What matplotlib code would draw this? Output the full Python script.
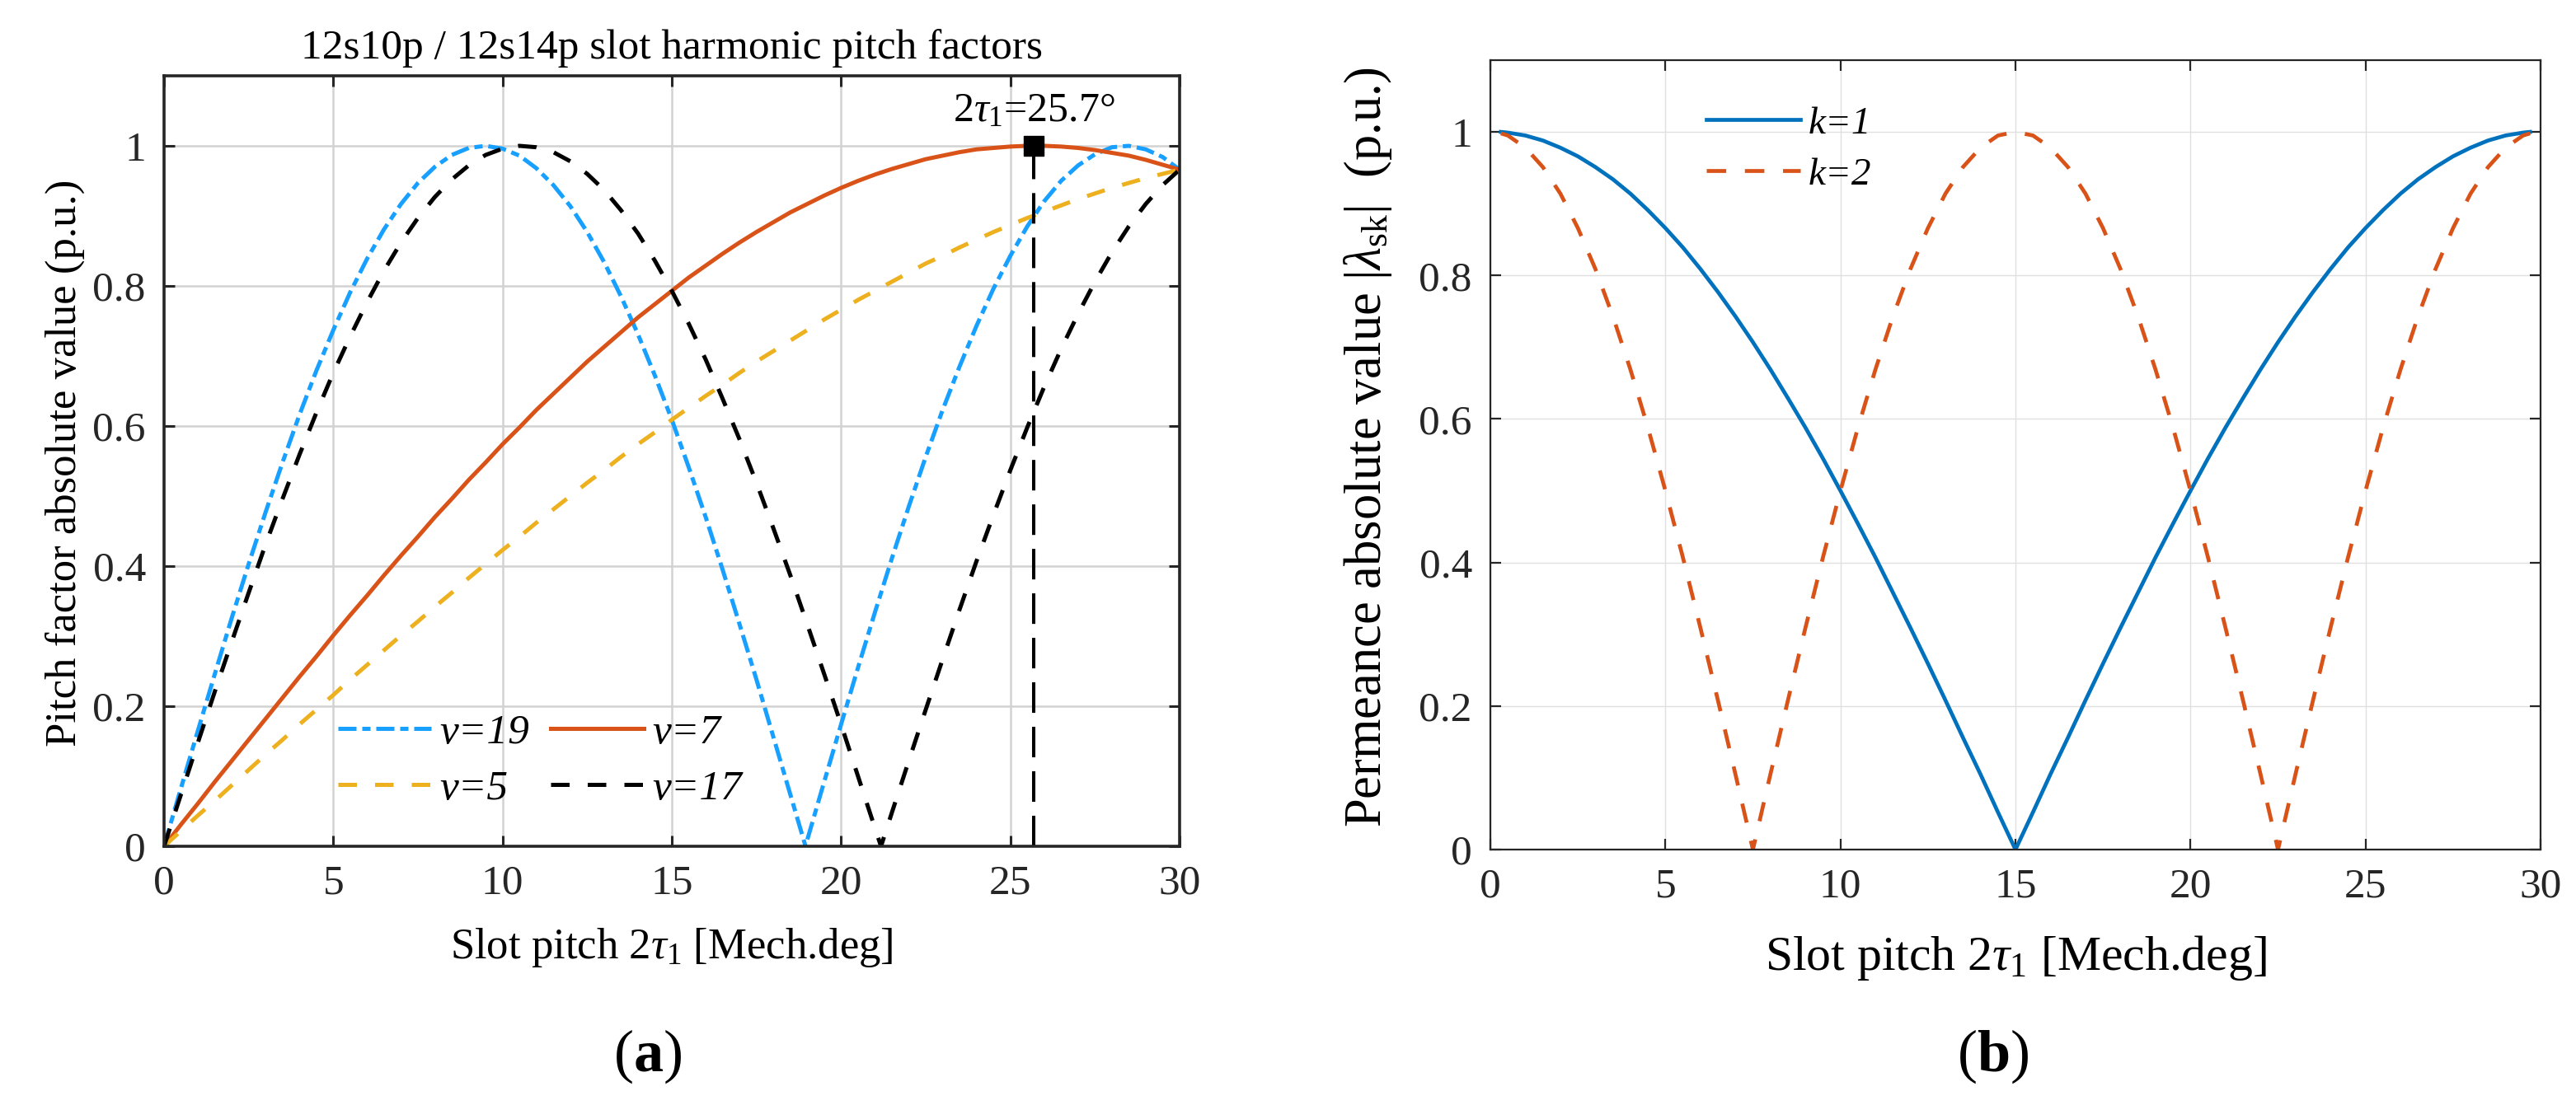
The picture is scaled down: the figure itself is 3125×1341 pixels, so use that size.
import matplotlib
matplotlib.use('Agg')
import matplotlib.pyplot as plt
from matplotlib.ticker import FuncFormatter

plt.rcParams['font.family'] = ['Liberation Serif', 'DejaVu Serif']
plt.rcParams['mathtext.fontset'] = 'custom'
plt.rcParams['mathtext.rm'] = 'Liberation Serif'
plt.rcParams['mathtext.it'] = 'Liberation Serif:italic'
plt.rcParams['mathtext.bf'] = 'Liberation Serif:bold'

# ---- data: panel (a), pitch factor vs slot pitch ----
x_a = [0.0, 0.5, 1.0, 1.5, 2.0, 2.5, 3.0, 3.5, 4.0, 4.5, 5.0, 5.5, 6.0, 6.5, 7.0, 7.5,
       8.0, 8.5, 9.0, 9.5, 10.0, 10.5, 11.0, 11.5, 12.0, 12.5, 13.0, 13.5, 14.0, 14.5,
       15.0, 15.5, 16.0, 16.5, 17.0, 17.5, 18.0, 18.5, 19.0, 19.5, 20.0, 20.5, 21.0,
       21.5, 22.0, 22.5, 23.0, 23.5, 24.0, 24.5, 25.0, 25.5, 26.0, 26.5, 27.0, 27.5,
       28.0, 28.5, 29.0, 29.5, 30.0]

v7 = [0.000, 0.031, 0.061, 0.092, 0.122, 0.152, 0.182, 0.212, 0.242, 0.271, 0.301,
      0.330, 0.358, 0.387, 0.415, 0.442, 0.470, 0.496, 0.523, 0.548, 0.574, 0.598,
      0.623, 0.646, 0.669, 0.692, 0.713, 0.734, 0.755, 0.774, 0.793, 0.812, 0.829,
      0.846, 0.862, 0.877, 0.891, 0.905, 0.917, 0.929, 0.940, 0.950, 0.959, 0.967,
      0.974, 0.981, 0.986, 0.991, 0.995, 0.997, 0.999, 1.000, 1.000, 0.999, 0.997,
      0.994, 0.990, 0.986, 0.980, 0.973, 0.966]

v5 = [0.000, 0.022, 0.044, 0.065, 0.087, 0.109, 0.131, 0.152, 0.174, 0.195, 0.216,
      0.238, 0.259, 0.280, 0.301, 0.321, 0.342, 0.362, 0.383, 0.403, 0.423, 0.442,
      0.462, 0.481, 0.500, 0.519, 0.537, 0.556, 0.574, 0.591, 0.609, 0.626, 0.643,
      0.659, 0.676, 0.692, 0.707, 0.722, 0.737, 0.752, 0.766, 0.780, 0.793, 0.806,
      0.819, 0.832, 0.843, 0.855, 0.866, 0.877, 0.887, 0.897, 0.906, 0.915, 0.924,
      0.932, 0.940, 0.947, 0.954, 0.960, 0.966]

x_v19 = [0.0, 0.5, 1.0, 1.5, 2.0, 2.5, 3.0, 3.5, 4.0, 4.5, 5.0, 5.5, 6.0, 6.5, 7.0,
         7.5, 8.0, 8.5, 9.0, 9.5, 10.0, 10.5, 11.0, 11.5, 12.0, 12.5, 13.0, 13.5, 14.0,
         14.5, 15.0, 15.5, 16.0, 16.5, 17.0, 17.5, 18.0, 18.5, 18.95, 19.0, 19.5, 20.0,
         20.5, 21.0, 21.5, 22.0, 22.5, 23.0, 23.5, 24.0, 24.5, 25.0, 25.5, 26.0, 26.5,
         27.0, 27.5, 28.0, 28.5, 29.0, 29.5, 30.0]
v19 = [0.000, 0.083, 0.165, 0.246, 0.326, 0.403, 0.477, 0.548, 0.616, 0.679, 0.737,
       0.791, 0.839, 0.881, 0.917, 0.947, 0.970, 0.987, 0.997, 1.000, 0.996, 0.986,
       0.968, 0.944, 0.914, 0.877, 0.834, 0.785, 0.731, 0.672, 0.609, 0.541, 0.470,
       0.395, 0.317, 0.238, 0.156, 0.074, 0.000, 0.009, 0.092, 0.174, 0.255, 0.334,
       0.411, 0.485, 0.556, 0.623, 0.685, 0.743, 0.796, 0.843, 0.885, 0.921, 0.950,
       0.972, 0.988, 0.998, 1.000, 0.995, 0.984, 0.966]

x_v17 = [0.0, 0.5, 1.0, 1.5, 2.0, 2.5, 3.0, 3.5, 4.0, 4.5, 5.0, 5.5, 6.0, 6.5, 7.0,
         7.5, 8.0, 8.5, 9.0, 9.5, 10.0, 10.5, 11.0, 11.5, 12.0, 12.5, 13.0, 13.5, 14.0,
         14.5, 15.0, 15.5, 16.0, 16.5, 17.0, 17.5, 18.0, 18.5, 19.0, 19.5, 20.0, 20.5,
         21.0, 21.18, 21.5, 22.0, 22.5, 23.0, 23.5, 24.0, 24.5, 25.0, 25.5, 26.0, 26.5,
         27.0, 27.5, 28.0, 28.5, 29.0, 29.5, 30.0]
v17 = [0.000, 0.074, 0.148, 0.221, 0.292, 0.362, 0.431, 0.496, 0.559, 0.619, 0.676,
       0.728, 0.777, 0.822, 0.862, 0.897, 0.927, 0.952, 0.972, 0.987, 0.996, 1.000,
       0.998, 0.991, 0.978, 0.960, 0.937, 0.908, 0.875, 0.836, 0.793, 0.746, 0.695,
       0.639, 0.581, 0.519, 0.454, 0.387, 0.317, 0.246, 0.174, 0.100, 0.026, 0.000,
       0.048, 0.122, 0.195, 0.267, 0.338, 0.407, 0.473, 0.537, 0.598, 0.656, 0.710,
       0.760, 0.806, 0.848, 0.885, 0.917, 0.944, 0.966]

tau_x = 25.7
tau_y = 1.0

# ---- data: panel (b), permeance vs slot pitch ----
x_b = [0.3, 0.5, 1.0, 1.5, 2.0, 2.5, 3.0, 3.5, 4.0, 4.5, 5.0, 5.5, 6.0, 6.5, 7.0, 7.5,
       8.0, 8.5, 9.0, 9.5, 10.0, 10.5, 11.0, 11.5, 12.0, 12.5, 13.0, 13.5, 14.0, 14.5,
       15.0, 15.5, 16.0, 16.5, 17.0, 17.5, 18.0, 18.5, 19.0, 19.5, 20.0, 20.5, 21.0,
       21.5, 22.0, 22.5, 23.0, 23.5, 24.0, 24.5, 25.0, 25.5, 26.0, 26.5, 27.0, 27.5,
       28.0, 28.5, 29.0, 29.5, 29.7]
k1 = [1.000, 0.999, 0.995, 0.988, 0.978, 0.966, 0.951, 0.934, 0.914, 0.891, 0.866,
      0.839, 0.809, 0.777, 0.743, 0.707, 0.669, 0.629, 0.588, 0.545, 0.500, 0.454,
      0.407, 0.358, 0.309, 0.259, 0.208, 0.156, 0.105, 0.052, 0.000, 0.052, 0.105,
      0.156, 0.208, 0.259, 0.309, 0.358, 0.407, 0.454, 0.500, 0.545, 0.588, 0.629,
      0.669, 0.707, 0.743, 0.777, 0.809, 0.839, 0.866, 0.891, 0.914, 0.934, 0.951,
      0.966, 0.978, 0.988, 0.995, 0.999, 1.000]
k2 = [0.998, 0.995, 0.978, 0.951, 0.914, 0.866, 0.809, 0.743, 0.669, 0.588, 0.500,
      0.407, 0.309, 0.208, 0.105, 0.000, 0.105, 0.208, 0.309, 0.407, 0.500, 0.588,
      0.669, 0.743, 0.809, 0.866, 0.914, 0.951, 0.978, 0.995, 1.000, 0.995, 0.978,
      0.951, 0.914, 0.866, 0.809, 0.743, 0.669, 0.588, 0.500, 0.407, 0.309, 0.208,
      0.105, 0.000, 0.105, 0.208, 0.309, 0.407, 0.500, 0.588, 0.669, 0.743, 0.809,
      0.866, 0.914, 0.951, 0.978, 0.995, 0.998]

x_ticks = [0, 5, 10, 15, 20, 25, 30]
y_ticks = [0, 0.2, 0.4, 0.6, 0.8, 1.0]

W, H = 3125, 1341


def fx(px):
    return px / W


def fy(py):
    return 1 - py / H


def style_axes(ax, spine_w, tick_w, grid_c, grid_w):
    ax.set_xlim(0, 30)
    ax.set_ylim(0, 1.1)
    ax.set_xticks(x_ticks)
    ax.set_yticks(y_ticks)
    ax.yaxis.set_major_formatter(FuncFormatter(lambda v, p: '%g' % v))
    ax.tick_params(direction='in', length=9.5, width=tick_w, top=True, right=True,
                   labelsize=37, pad=16, colors='#262626')
    for s in ax.spines.values():
        s.set_linewidth(spine_w)
        s.set_color('#262626')
    ax.grid(True, color=grid_c, linewidth=grid_w)
    ax.set_axisbelow(True)


fig = plt.figure(figsize=(W / 100, H / 100), dpi=100)

# ---------------- panel (a) ----------------
ax1 = fig.add_axes([fx(199), fy(1027), fx(1232), 935 / H])
style_axes(ax1, 2.6, 2.2, '#d2d2d2', 1.8)

h19, = ax1.plot(x_v19, v19, color='#17A0FF', lw=3.6, dashes=(4.4, 1.4, 2.0, 1.4),
                label='v=19')
h7, = ax1.plot(x_a, v7, color='#D95319', lw=3.6, label='v=7')
h5, = ax1.plot(x_a, v5, color='#EDB120', lw=3.6, dashes=(4.5, 4.4), label='v=5')
h17, = ax1.plot(x_v17, v17, color='black', lw=3.6, dashes=(4.5, 4.4), label='v=17')
ax1.plot([tau_x, tau_x], [0, tau_y], color='black', lw=2.9, dashes=(9.2, 4.2))
ax1.plot([tau_x], [tau_y], 's', color='black', ms=17)
ax1.text(23.3, 1.035, r'2$\tau_1$=25.7°', fontsize=36, ha='left', va='baseline')

ax1.legend([h19, h5, h7, h17], ['v=19', 'v=5', 'v=7', 'v=17'], ncol=2,
           loc='upper left', bbox_to_anchor=(0.171, 0.172), frameon=False,
           prop={'size': 37, 'style': 'italic'}, handlelength=2.2,
           handletextpad=0.2, columnspacing=0.5, labelspacing=0.4,
           borderpad=0, borderaxespad=0)

fig.text(fx(815), fy(71), '12s10p / 12s14p slot harmonic pitch factors',
         fontsize=37, ha='center', va='baseline')
fig.text(fx(815), fy(1163), r'Slot pitch 2$\tau_1$ [Mech.deg]', fontsize=38,
         ha='center', va='baseline')
fig.text(fx(92), fy(562), 'Pitch factor absolute value (p.u.)', fontsize=38,
         rotation=90, rotation_mode='anchor', ha='center', va='baseline')
fig.text(fx(786), fy(1300), r'($\mathbf{a}$)', fontsize=52, ha='center',
         va='baseline')

# ---------------- panel (b) ----------------
ax2 = fig.add_axes([fx(1808), fy(1031), fx(1274), 958 / H])
style_axes(ax2, 1.6, 1.6, '#e0e0e0', 1.0)

g1, = ax2.plot(x_b, k1, color='#0072BD', lw=3.4, label='k=1')
g2, = ax2.plot(x_b, k2, color='#D95319', lw=3.4, dashes=(5.0, 4.8), label='k=2')
ax2.legend(loc='upper left', bbox_to_anchor=(0.206, 0.942), frameon=False,
           prop={'size': 34, 'style': 'italic'}, handlelength=2.4,
           handletextpad=0.2, labelspacing=0.4, borderpad=0, borderaxespad=0)

fig.text(fx(2445), fy(1177), r'Slot pitch 2$\tau_1$ [Mech.deg]', fontsize=43,
         ha='center', va='baseline')
fig.text(fx(1675), fy(542), r'Permeance absolute value $|\lambda_{\mathrm{sk}}|$  (p.u.)',
         fontsize=45, rotation=90, rotation_mode='anchor', ha='center',
         va='baseline')
fig.text(fx(2418), fy(1300), r'($\mathbf{b}$)', fontsize=52, ha='center',
         va='baseline')

fig.savefig('out.png', dpi=100)
